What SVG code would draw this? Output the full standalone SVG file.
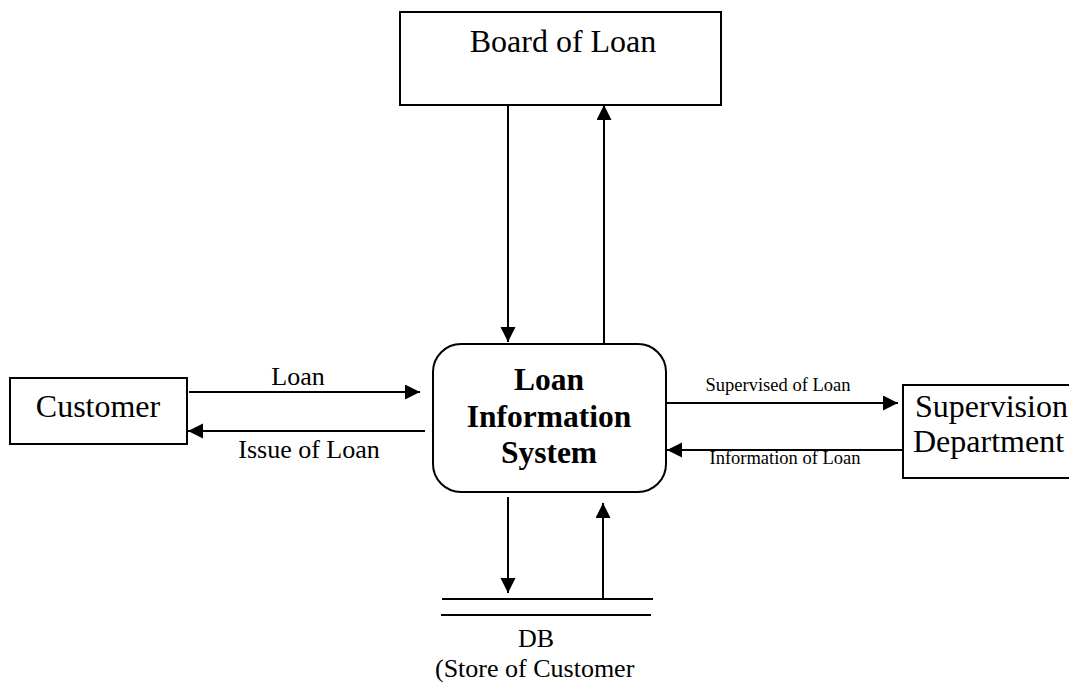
<svg xmlns="http://www.w3.org/2000/svg" width="1069" height="684" viewBox="0 0 1069 684">
<style>
.box{fill:#fff;stroke:#000;stroke-width:2}
.ln{stroke:#000;stroke-width:2;fill:none}
.t{font-family:"Liberation Serif","Times New Roman",serif;fill:#000}
.ent{font-size:32px}
.lbl{font-size:26px}
.sm{font-size:18.5px}
.proc{font-size:31.5px;font-weight:bold}
</style>
<defs>
<marker id="ah" markerUnits="userSpaceOnUse" markerWidth="16" markerHeight="16" refX="15" refY="7.5" orient="auto">
<path d="M0,0 L15,7.5 L0,15 z" fill="#000"/>
</marker>
</defs>
<rect width="1069" height="684" fill="#fff"/>
<g id="board">
<rect class="box" x="400" y="12" width="321" height="93"/>
<text class="t ent" x="563" y="52" text-anchor="middle">Board of Loan</text>
</g>
<g id="customer">
<rect class="box" x="10" y="378" width="177" height="66"/>
<text class="t ent" x="98" y="417" text-anchor="middle">Customer</text>
</g>
<g id="process">
<rect class="box" x="433" y="344" width="233" height="148" rx="28" ry="28"/>
<text class="t proc" x="549" y="390" text-anchor="middle">Loan</text>
<text class="t proc" x="549" y="427" text-anchor="middle">Information</text>
<text class="t proc" x="549" y="463" text-anchor="middle">System</text>
</g>
<g id="supervision">
<rect class="box" x="903" y="385" width="180" height="93"/>
<text class="t ent" x="915" y="417">Supervision</text>
<text class="t ent" x="913" y="452">Department</text>
</g>
<g id="db">
<line class="ln" x1="442" y1="599" x2="653" y2="599"/>
<line class="ln" x1="441" y1="615" x2="651" y2="615"/>
<text class="t lbl" x="536" y="647" text-anchor="middle">DB</text>
<text class="t lbl" x="435" y="677">(Store of Customer</text>
</g>
<g id="connectors">
<line class="ln" x1="189" y1="392" x2="420" y2="392" marker-end="url(#ah)"/>
<text class="t lbl" x="298" y="385" text-anchor="middle">Loan</text>
<line class="ln" x1="425" y1="431" x2="188" y2="431" marker-end="url(#ah)"/>
<text class="t lbl" x="309" y="458" text-anchor="middle">Issue of Loan</text>
<line class="ln" x1="667" y1="403" x2="898" y2="403" marker-end="url(#ah)"/>
<text class="t sm" x="778" y="391" text-anchor="middle">Supervised of Loan</text>
<line class="ln" x1="903" y1="450" x2="667" y2="450" marker-end="url(#ah)"/>
<text class="t sm" x="785" y="464" text-anchor="middle">Information of Loan</text>
<line class="ln" x1="508" y1="105" x2="508" y2="342" marker-end="url(#ah)"/>
<line class="ln" x1="604" y1="343" x2="604" y2="105" marker-end="url(#ah)"/>
<line class="ln" x1="508" y1="497" x2="508" y2="593" marker-end="url(#ah)"/>
<line class="ln" x1="603" y1="598" x2="603" y2="503" marker-end="url(#ah)"/>
</g>
</svg>
